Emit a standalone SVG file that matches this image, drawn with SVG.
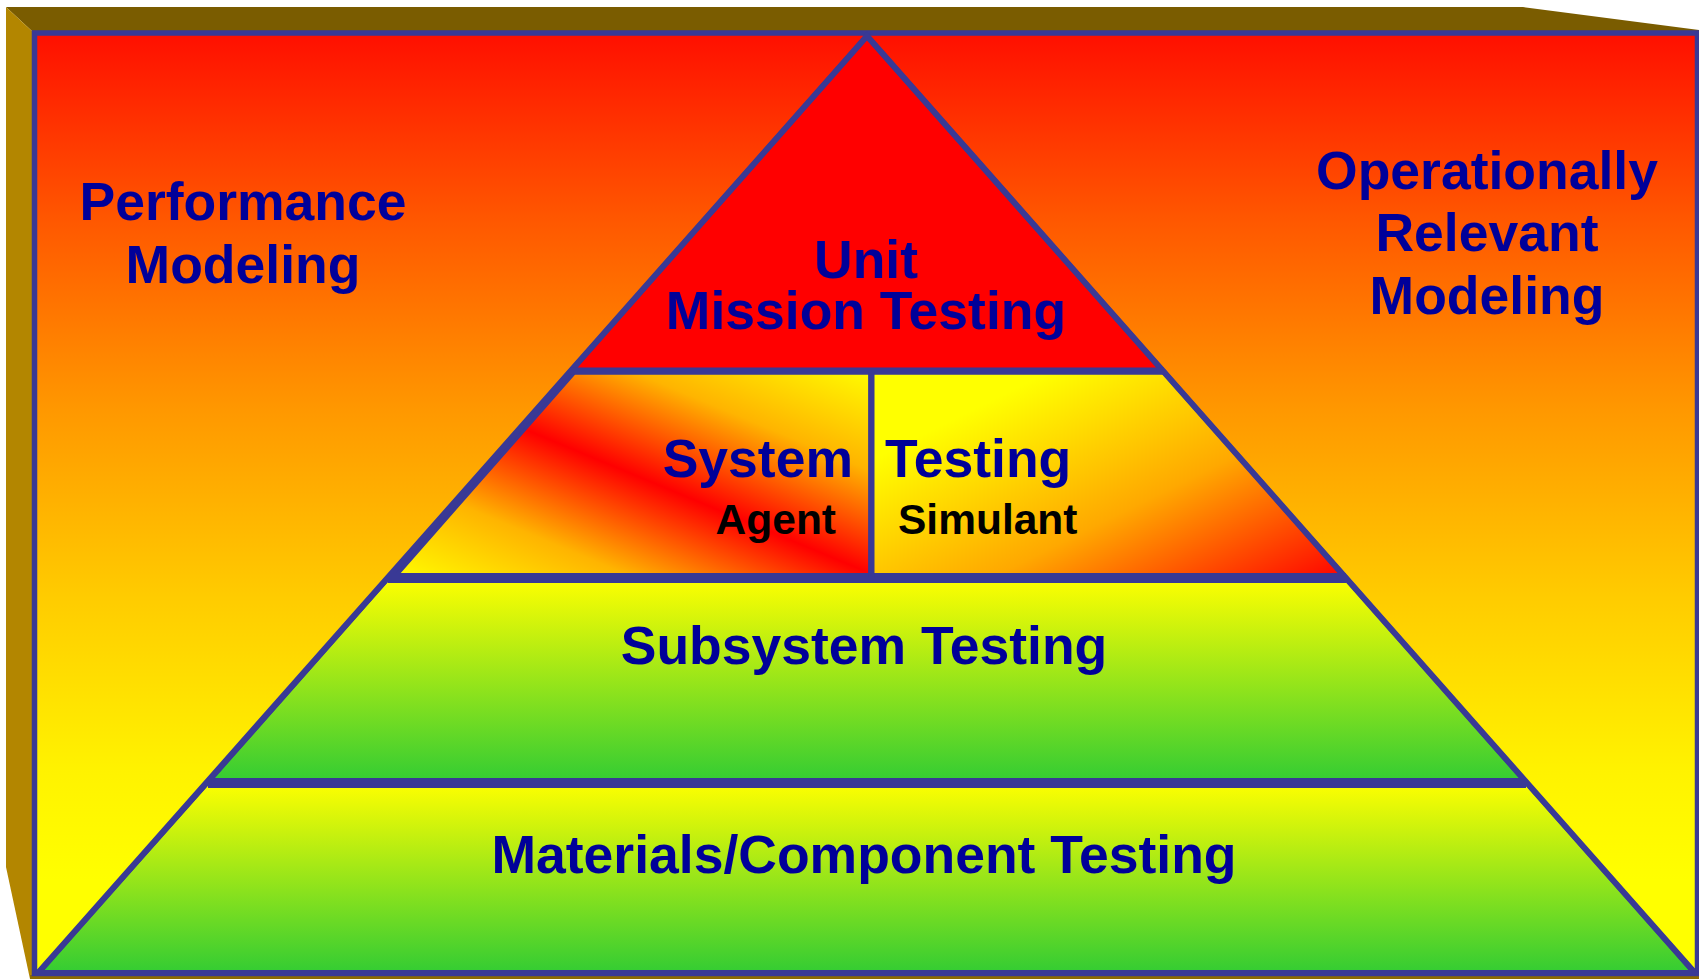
<svg xmlns="http://www.w3.org/2000/svg" width="1699" height="979" viewBox="0 0 1699 979">
<defs>
<style>
.t{font-family:"Liberation Sans",Arial,sans-serif;font-weight:bold;fill:#000099;font-size:53.5px;text-anchor:middle}
.s{font-family:"Liberation Sans",Arial,sans-serif;font-weight:bold;fill:#000000;font-size:42.5px}
.edge{stroke:#393995;fill:none;stroke-linejoin:miter}
.tier{stroke:#393995;stroke-width:5;stroke-linejoin:miter}
</style>
<linearGradient id="bg" x1="0" y1="33" x2="0" y2="975" gradientUnits="userSpaceOnUse">
<stop offset="0" stop-color="#FF0F00"/>
<stop offset="0.2" stop-color="#FF5800"/>
<stop offset="0.4" stop-color="#FF9800"/>
<stop offset="0.6" stop-color="#FFCC00"/>
<stop offset="0.78" stop-color="#FFF200"/>
<stop offset="0.9" stop-color="#FFFF00"/>
<stop offset="1" stop-color="#FFFF00"/>
</linearGradient>
<linearGradient id="yg1" x1="0" y1="578" x2="0" y2="782" gradientUnits="userSpaceOnUse">
<stop offset="0" stop-color="#FFFF00"/>
<stop offset="1" stop-color="#33CC33"/>
</linearGradient>
<linearGradient id="yg2" x1="0" y1="782" x2="0" y2="973" gradientUnits="userSpaceOnUse">
<stop offset="0" stop-color="#FFFF00"/>
<stop offset="1" stop-color="#33CC33"/>
</linearGradient>
<linearGradient id="ml" x1="940" y1="397" x2="794" y2="747" gradientUnits="userSpaceOnUse">
<stop offset="0" stop-color="#FFFF00"/>
<stop offset="0.25" stop-color="#FFB400"/>
<stop offset="0.5" stop-color="#FF0000"/>
<stop offset="0.75" stop-color="#FFB400"/>
<stop offset="1" stop-color="#FFFF00"/>
</linearGradient>
<linearGradient id="mr" x1="871" y1="372" x2="1048" y2="727" gradientUnits="userSpaceOnUse">
<stop offset="0" stop-color="#FFFF00"/>
<stop offset="0.2" stop-color="#FFFF00"/>
<stop offset="0.6" stop-color="#FFA800"/>
<stop offset="1" stop-color="#FF0000"/>
</linearGradient>
</defs>

<g id="frame">
<polygon points="6,7 1523,7 1699,30 1699,33 34,33" fill="#7A5C00"/>
<polygon points="6,7 34,33 34,979 30,979 6,867" fill="#B38600"/>
<rect x="30" y="975" width="1669" height="4" fill="#8C6A00"/>
<rect x="34.5" y="33" width="1663" height="940.5" fill="url(#bg)" stroke="#393995" stroke-width="5.5"/>
</g>

<g id="tier-unit">
<polygon class="tier" points="867,36 1164,372 570,372" fill="#FF0000"/>
<text class="t" x="866" y="278">Unit</text>
<text class="t" x="866" y="329">Mission Testing</text>
</g>

<g id="tier-system-agent">
<polygon class="tier" points="574,372 871,372 871,578 393,578" fill="url(#ml)"/>
<text class="t" x="853" y="477" style="text-anchor:end">System</text>
<text class="s" x="836" y="534" text-anchor="end">Agent</text>
</g>

<g id="tier-system-simulant">
<polygon class="tier" points="871,372 1164,372 1346,578 871,578" fill="url(#mr)"/>
<text class="t" x="885" y="477" style="text-anchor:start">Testing</text>
<text class="s" x="898" y="534">Simulant</text>
</g>

<g id="tier-subsystem">
<polygon class="tier" points="388,578 1346,578 1526,782 208,782" fill="url(#yg1)"/>
<text class="t" x="864" y="664">Subsystem Testing</text>
</g>

<g id="tier-materials">
<polygon class="tier" points="208,782 1526,782 1695,973 38,973" fill="url(#yg2)"/>
<text class="t" x="864" y="873">Materials/Component Testing</text>
</g>

<g id="connectors">
<polygon class="edge" stroke-width="6" points="867,36 1695,973 38,973"/>
<line class="edge" x1="570" y1="371" x2="1164" y2="371" stroke-width="7"/>
<line class="edge" x1="388" y1="578" x2="1346" y2="578" stroke-width="10"/>
<line class="edge" x1="208" y1="783" x2="1526" y2="783" stroke-width="10"/>
<line class="edge" x1="871.5" y1="372" x2="871.5" y2="578" stroke-width="6"/>
</g>

<g id="label-performance">
<text class="t" x="243" y="220">Performance</text>
<text class="t" x="243" y="283">Modeling</text>
</g>

<g id="label-operational">
<text class="t" x="1487" y="189">Operationally</text>
<text class="t" x="1487" y="251">Relevant</text>
<text class="t" x="1487" y="314">Modeling</text>
</g>
</svg>
